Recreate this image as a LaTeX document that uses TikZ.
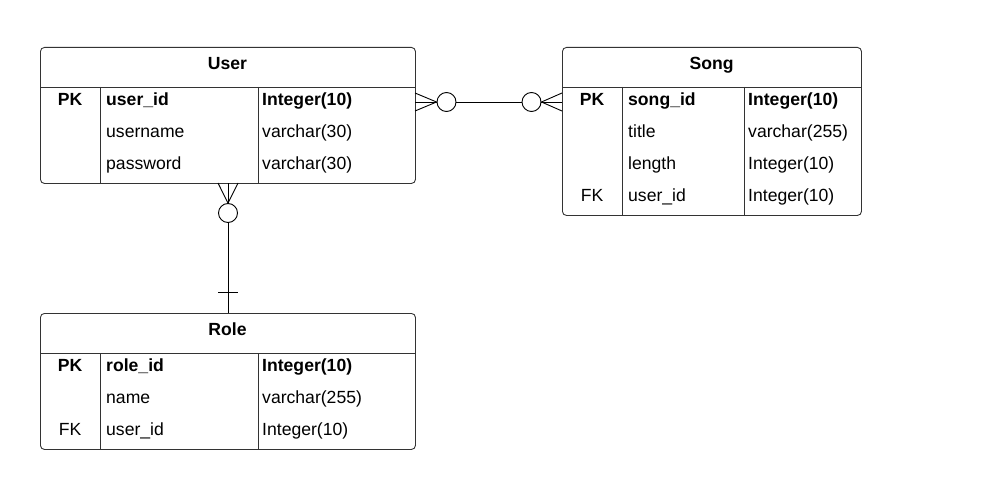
\documentclass[tikz,border=0pt]{standalone}
\usepackage{fontspec}
\setmainfont{Liberation Sans}
\begin{document}
\begin{tikzpicture}[x=1pt,y=-1pt,
  tbl/.style={draw=black!80, line width=0.9pt, rounded corners=4pt, inner sep=0pt, anchor=north west},
  sep/.style={draw=black!80, line width=0.9pt},
  base/.style={inner sep=0pt, text height=13.8pt, text depth=2pt},
  txt/.style={base, font=\fontsize{17.6}{20}\selectfont, anchor=west},
  btxt/.style={base, font=\fontsize{17.6}{20}\selectfont\bfseries, anchor=west},
  key/.style={base, font=\fontsize{17.6}{20}\selectfont\bfseries},
  fkey/.style={base, font=\fontsize{17.6}{20}\selectfont},
  ttl/.style={base, font=\fontsize{17.6}{20}\selectfont\bfseries},
  crc/.style={circle, draw, line width=0.9pt, minimum size=19pt, inner sep=0pt},
  conn/.style={draw=black, line width=0.9pt}]
\useasboundingbox (0,0) rectangle (987,484);
\fill[white] (0,0) rectangle (987,484);
% User
\node[tbl, minimum width=375pt, minimum height=136pt] (user) at (40,47) {};
\draw[sep] (40,87) -- (415,87);
\draw[sep] (100,87) -- (100,183);
\draw[sep] (258,87) -- (258,183);
\node[ttl] (usert) at (227.5,64) {User};
\node[key] (userpk) at (70,100) {PK};
\node[btxt] (u1) at (106,100) {user\_id};
\node[txt] (u2) at (106,132) {username};
\node[txt] (u3) at (106,164) {password};
\node[btxt] (u1t) at (262,100) {Integer(10)};
\node[txt] (u2t) at (262,132) {varchar(30)};
\node[txt] (u3t) at (262,164) {varchar(30)};
% Song
\node[tbl, minimum width=299pt, minimum height=168pt] (song) at (562,47) {};
\draw[sep] (562,87) -- (861,87);
\draw[sep] (622,87) -- (622,215);
\draw[sep] (744,87) -- (744,215);
\node[ttl] (songt) at (711.5,64) {Song};
\node[key] (songpk) at (592,100) {PK};
\node[fkey] (songfk) at (592,196) {FK};
\node[btxt] (s1) at (628,100) {song\_id};
\node[txt] (s2) at (628,132) {title};
\node[txt] (s3) at (628,164) {length};
\node[txt] (s4) at (628,196) {user\_id};
\node[btxt] (s1t) at (748,100) {Integer(10)};
\node[txt] (s2t) at (748,132) {varchar(255)};
\node[txt] (s3t) at (748,164) {Integer(10)};
\node[txt] (s4t) at (748,196) {Integer(10)};
% Role
\node[tbl, minimum width=375pt, minimum height=136pt] (role) at (40,313) {};
\draw[sep] (40,353) -- (415,353);
\draw[sep] (100,353) -- (100,449);
\draw[sep] (258,353) -- (258,449);
\node[ttl] (rolet) at (227.5,330) {Role};
\node[key] (rolepk) at (70,366) {PK};
\node[fkey] (rolefk) at (70,430) {FK};
\node[btxt] (r1) at (106,366) {role\_id};
\node[txt] (r2) at (106,398) {name};
\node[txt] (r3) at (106,430) {user\_id};
\node[btxt] (r1t) at (262,366) {Integer(10)};
\node[txt] (r2t) at (262,398) {varchar(255)};
\node[txt] (r3t) at (262,430) {Integer(10)};
% User - Song connector
\node[crc] (c1) at (446.5,102) {};
\node[crc] (c2) at (531.5,102) {};
\coordinate (ua) at (415,102);
\coordinate (sa) at (562,102);
\draw[conn] (c1.east) -- (c2.west);
\draw[conn] (415,93) -- (c1.west) -- (415,111);
\draw[conn] (ua) -- (c1.west);
\draw[conn] (562,93) -- (c2.east) -- (562,111);
\draw[conn] (sa) -- (c2.east);
% User - Role connector
\node[crc] (c3) at (228,213) {};
\coordinate (ub) at (228,183);
\coordinate (rb) at (228,313);
\draw[conn] (218,183) -- (c3.north) -- (238,183);
\draw[conn] (ub) -- (c3.north);
\draw[conn] (c3.south) -- (rb);
\draw[conn] (218,292) -- (238,292);
\end{tikzpicture}
\end{document}
